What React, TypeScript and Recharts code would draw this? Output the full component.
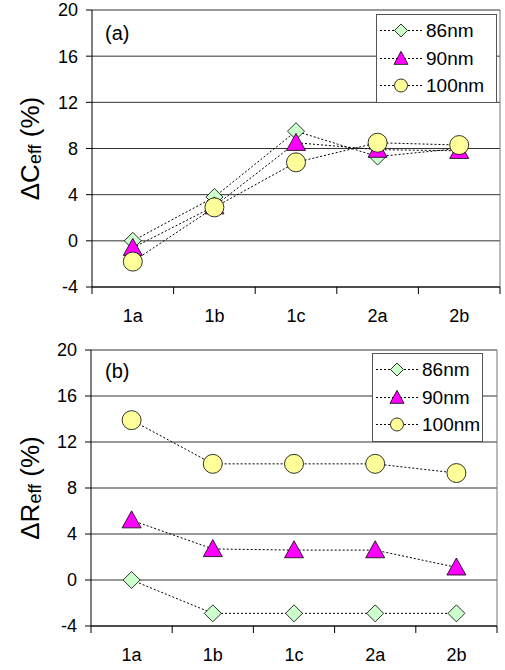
import { LineChart, Line, XAxis, YAxis, CartesianGrid, Legend, ReferenceLine, Customized } from 'recharts'

const CATEGORIES = ['1a', '1b', '1c', '2a', '2b']
const SERIES_NAMES = ['86nm', '90nm', '100nm']

// (a) delta C_eff (%)
const C_86 = [0, 3.8, 9.5, 7.3, 8.0]
const C_90 = [-0.6, 3.0, 8.5, 7.9, 7.8]
const C_100 = [-1.8, 2.9, 6.8, 8.5, 8.3]

// (b) delta R_eff (%)
const R_86 = [0, -2.9, -2.9, -2.9, -2.9]
const R_90 = [5.2, 2.7, 2.6, 2.6, 1.1]
const R_100 = [13.9, 10.1, 10.1, 10.1, 9.3]

const Y_TICKS = [-4, 0, 4, 8, 12, 16, 20]
const X_BOUNDS = [0, 1, 2, 3, 4, 5]

const FONT = '"Liberation Sans", Arial, sans-serif'
const DOTS = '2 2'

const buildRows = (a: number[], b: number[], c: number[]) =>
  CATEGORIES.map((cat, i) => ({ x: i + 0.5, cat, s86: a[i], s90: b[i], s100: c[i] }))

function Diamond({ cx, cy, s = 8.5 }: any) {
  return (
    <polygon
      points={`${cx},${cy - s} ${cx + s},${cy} ${cx},${cy + s} ${cx - s},${cy}`}
      fill="#ccffcc"
      stroke="#000"
      strokeWidth={0.8}
    />
  )
}

function Triangle({ cx, cy, w = 9.5, h = 17 }: any) {
  return (
    <polygon
      points={`${cx},${cy - h * 0.55} ${cx + w},${cy + h * 0.45} ${cx - w},${cy + h * 0.45}`}
      fill="#ff00ff"
      stroke="#000"
      strokeWidth={0.8}
    />
  )
}

function Circle({ cx, cy, r = 9.5 }: any) {
  return <circle cx={cx} cy={cy} r={r} fill="#ffff99" stroke="#000" strokeWidth={0.8} />
}

function LegendBox({ width }: { width: number }) {
  const markers = [
    <Diamond cx={24} cy={13.5} s={6.5} />,
    <Triangle cx={24} cy={13.5} w={7} h={13} />,
    <Circle cx={24} cy={13.5} r={6.5} />,
  ]
  return (
    <div
      style={{
        width,
        boxSizing: 'border-box',
        border: '1px solid #555',
        background: '#fff',
        padding: '2px 0',
        fontFamily: FONT,
        fontSize: 19,
        lineHeight: 1,
        color: '#000',
      }}
    >
      {SERIES_NAMES.map((name, i) => (
        <div key={name} style={{ height: 27.5, display: 'flex', alignItems: 'center' }}>
          <svg width={48} height={27} style={{ flex: 'none' }}>
            <line x1={3} x2={45} y1={13.5} y2={13.5} stroke="#000" strokeDasharray={DOTS} />
            {markers[i]}
          </svg>
          <span style={{ marginLeft: 1 }}>{name}</span>
        </div>
      ))}
    </div>
  )
}

interface PanelProps {
  tag: string
  symbol: string
  values: [number[], number[], number[]]
  top: number
  right: number
  yWidth: number
  xHeight: number
  legendLeft: number
  legendTop: number
  legendWidth: number
  tagY: number
}

function Panel(p: PanelProps) {
  const width = 505
  const height = 335
  const plotWidth = width - p.yWidth - p.right
  const band = plotWidth / CATEGORIES.length
  const plotTop = p.top
  const plotHeight = height - p.top - p.xHeight
  const midY = plotTop + plotHeight / 2
  const data = buildRows(...p.values)

  const XTick = (props: any) => {
    const { x, y, payload } = props
    const v = payload.value as number
    return (
      <g>
        <line x1={x} x2={x} y1={y} y2={y + 7} stroke="#000" />
        {v < CATEGORIES.length && (
          <text x={x + band / 2} y={y + 35} textAnchor="middle" fontSize={18} fontFamily={FONT} fill="#000">
            {CATEGORIES[v]}
          </text>
        )}
      </g>
    )
  }

  const Labels = () => (
    <g fontFamily={FONT} fill="#000">
      <text x={105} y={p.tagY} fontSize={20}>
        {p.tag}
      </text>
      <text transform={`translate(39,${midY}) rotate(-90)`} textAnchor="middle" fontSize={26}>
        {'\u0394' + p.symbol}
        <tspan fontSize={18} dy={2}>
          eff
        </tspan>
        <tspan dy={-2}> (%)</tspan>
      </text>
    </g>
  )

  return (
    <LineChart width={width} height={height} data={data} margin={{ top: p.top, right: p.right, bottom: 0, left: 0 }}>
      <CartesianGrid vertical={false} stroke="#333" />
      <ReferenceLine x={5} stroke="#777" />
      <XAxis
        dataKey="x"
        type="number"
        domain={[0, 5]}
        ticks={X_BOUNDS}
        interval={0}
        height={p.xHeight}
        tickSize={0}
        tickMargin={0}
        tickLine={false}
        axisLine={{ stroke: '#000' }}
        tick={XTick}
      />
      <YAxis
        type="number"
        domain={[-4, 20]}
        ticks={Y_TICKS}
        interval={0}
        width={p.yWidth}
        tickSize={6}
        tickMargin={8}
        axisLine={{ stroke: '#000' }}
        tickLine={{ stroke: '#000' }}
        tick={{ fontSize: 18, fontFamily: FONT, fill: '#000' }}
      />
      <Legend
        layout="vertical"
        align="center"
        verticalAlign="middle"
        wrapperStyle={{ left: p.legendLeft, top: p.legendTop, width: p.legendWidth }}
        content={() => <LegendBox width={p.legendWidth} />}
      />
      <Line
        dataKey="s86"
        stroke="#000"
        strokeWidth={1}
        strokeDasharray={DOTS}
        isAnimationActive={false}
        activeDot={false}
        dot={(d: any) => <Diamond key={`d${d.index}`} cx={d.cx} cy={d.cy} />}
      />
      <Line
        dataKey="s90"
        stroke="#000"
        strokeWidth={1}
        strokeDasharray={DOTS}
        isAnimationActive={false}
        activeDot={false}
        dot={(d: any) => <Triangle key={`t${d.index}`} cx={d.cx} cy={d.cy} />}
      />
      <Line
        dataKey="s100"
        stroke="#000"
        strokeWidth={1}
        strokeDasharray={DOTS}
        isAnimationActive={false}
        activeDot={false}
        dot={(d: any) => <Circle key={`c${d.index}`} cx={d.cx} cy={d.cy} />}
      />
      <Customized component={Labels} />
    </LineChart>
  )
}

export default function App() {
  return (
    <div style={{ position: 'absolute', left: 0, top: 0, width: 505, height: 670, background: '#fff' }}>
      <Panel
        tag="(a)"
        symbol="C"
        values={[C_86, C_90, C_100]}
        top={10}
        right={5}
        yWidth={92}
        xHeight={48}
        legendLeft={376}
        legendTop={14}
        legendWidth={121}
        tagY={40}
      />
      <Panel
        tag="(b)"
        symbol="R"
        values={[R_86, R_90, R_100]}
        top={15}
        right={8}
        yWidth={91}
        xHeight={44}
        legendLeft={372}
        legendTop={18}
        legendWidth={111}
        tagY={43}
      />
    </div>
  )
}
